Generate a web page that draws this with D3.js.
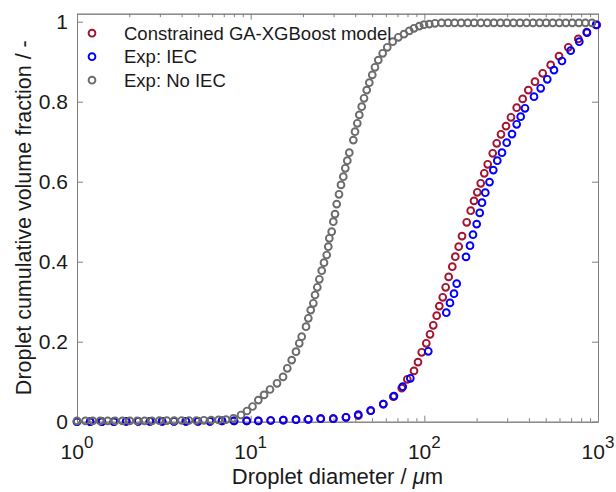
<!DOCTYPE html>
<html>
<head>
<meta charset="utf-8">
<script src="https://cdn.jsdelivr.net/npm/d3@7"></script>
<style>
  html, body { margin: 0; padding: 0; background: #fff; }
  svg { display: block; font-family: "Liberation Sans", Arial, Helvetica, sans-serif; }
</style>
</head>
<body>
<svg id="chart" width="616" height="492"></svg>
<script>
// Droplet diameter (µm) and cumulative volume fraction for each series
const modelD = [1.00, 1.19, 1.39, 1.63, 1.92, 2.25, 2.63, 3.09, 3.62, 4.24, 4.97, 5.83, 6.84, 8.02,
  9.49, 11.07, 13.04, 15.41, 18.24, 21.47, 25.31, 29.91, 35.39, 41.66, 49.11, 58.03,
  66.27, 74.07, 79.80, 87.19, 91.93, 96.57, 102.6, 107.8, 112.6, 117.8, 122.0, 127.6, 132.7, 138.1,
  144.9, 150.8, 157.7, 164.8, 175.4, 184.9, 193.2, 201.8, 211.2, 221.4, 231.7, 247.6,
  261.1, 276.3, 295.3, 315.5, 340.2, 368.5, 396.9, 433.7, 480.3, 534.1, 596.4, 674.6, 770.0, 860.9, 985.0];
const modelF = [0.000, 0.000, 0.000, 0.000, 0.001, 0.001, 0.001, 0.001, 0.001, 0.001, 0.001, 0.001, 0.002, 0.002,
  0.002, 0.002, 0.003, 0.004, 0.005, 0.006, 0.0075, 0.0075, 0.011, 0.015, 0.0275, 0.044,
  0.0625, 0.084, 0.106, 0.127, 0.149, 0.1735, 0.196, 0.2185, 0.241, 0.265, 0.289, 0.311, 0.336, 0.362,
  0.3875, 0.4125, 0.4375, 0.464, 0.4985, 0.5275, 0.552, 0.5735, 0.596, 0.621, 0.6435, 0.671,
  0.696, 0.7185, 0.739, 0.761, 0.785, 0.807, 0.829, 0.850, 0.871, 0.892, 0.914, 0.936, 0.957, 0.974, 0.992];

const iecD = [1.00, 1.19, 1.39, 1.63, 1.92, 2.25, 2.63, 3.09, 3.62, 4.24, 4.97, 5.83, 6.84, 8.02,
  9.49, 11.07, 13.04, 15.41, 18.24, 21.47, 25.31, 29.91, 35.39, 41.66, 49.11, 58.03,
  66.88, 75.06, 83.04, 105.4, 133.8, 140.5, 148.2, 153.6, 173.8, 183.2, 190.6, 200.2, 208.4, 214.8,
  224.4, 237.3, 249.5, 263.1, 280.0, 298.1, 319.8, 340.2, 358.7, 379.8, 428.0, 467.7, 510.5,
  557.9, 620.1, 696.0, 780.4, 864.3, 975.0];
const iecF = [0.000, 0.000, 0.000, 0.000, 0.001, 0.001, 0.001, 0.001, 0.001, 0.001, 0.001, 0.001, 0.002, 0.002,
  0.002, 0.002, 0.003, 0.004, 0.005, 0.006, 0.0075, 0.0075, 0.011, 0.0175, 0.0275, 0.044,
  0.064, 0.0875, 0.1085, 0.176, 0.2725, 0.297, 0.320, 0.345, 0.412, 0.440, 0.4675, 0.494, 0.522, 0.5475,
  0.5725, 0.599, 0.629, 0.6525, 0.6725, 0.6975, 0.719, 0.7435, 0.7625, 0.7835, 0.8125, 0.8335, 0.856,
  0.879, 0.9017, 0.9275, 0.950, 0.9725, 0.992];

const noIecD = [1.00, 1.118, 1.233, 1.360, 1.501, 1.655, 1.826, 2.014, 2.222, 2.450, 2.703, 2.982, 3.289,
  3.628, 4.002, 4.415, 4.870, 5.372, 5.926, 6.537, 7.211,
  7.963, 8.797, 9.524, 10.25, 11.07, 11.94, 12.92, 14.18, 15.36, 16.25, 17.23, 18.24, 19.05, 19.67,
  20.83, 21.48, 22.17, 22.95, 23.47, 24.19, 24.85, 25.65, 26.44, 27.41, 27.99, 28.37, 29.28, 29.91,
  30.59, 31.29, 32.26, 33.12, 34.15, 35.07, 36.01, 36.98, 39.00, 39.89, 41.12, 42.23, 43.59, 44.95,
  46.58, 48.22, 50.15, 51.97, 54.30, 57.56, 61.18, 65.73, 70.82, 76.36, 81.91, 87.19, 93.55, 99.55,
  106.8, 115.2, 125.6, 137.0, 149.4, 163.0, 177.7, 193.7, 211.4, 230.5, 251.5, 274.2, 298.8, 326.1,
  355.5, 388.0, 422.9, 461.0, 503.0, 548.4, 598.6, 652.5, 711.2, 776.3, 846.1, 923.3];
const noIecF = [0.002, 0.002, 0.002, 0.002, 0.002, 0.002, 0.002, 0.002, 0.002, 0.002, 0.002, 0.0025, 0.0025,
  0.0025, 0.003, 0.003, 0.003, 0.0035, 0.004, 0.0045, 0.005,
  0.0085, 0.0168, 0.0268, 0.038, 0.054, 0.067, 0.0805, 0.096, 0.112, 0.1335, 0.154, 0.175, 0.196, 0.2125,
  0.2375, 0.2585, 0.279, 0.296, 0.3168, 0.336, 0.356, 0.3775, 0.3975, 0.4168, 0.4375, 0.4585, 0.475, 0.500,
  0.519, 0.544, 0.5685, 0.592, 0.6125, 0.6335, 0.6525, 0.6725, 0.704, 0.725, 0.746, 0.767, 0.7875, 0.8085,
  0.829, 0.8475, 0.867, 0.886, 0.904, 0.921, 0.936, 0.950, 0.961, 0.969, 0.977, 0.9835, 0.989, 0.9925,
  0.994, 0.996, 0.997, 0.997, 0.997, 0.997, 0.997, 0.997, 0.997, 0.997, 0.997, 0.997, 0.997, 0.997,
  0.997, 0.997, 0.997, 0.997, 0.997, 0.997, 0.997, 0.997, 0.997, 0.997, 0.997, 0.997];

const seriesNames = ["Constrained GA-XGBoost model", "Exp: IEC", "Exp: No IEC"];
const seriesColors = ["#a2142f", "#0000ff", "#6b6b6b"];
const xMajorExponents = [0, 1, 2, 3];
const yTicks = [0, 0.2, 0.4, 0.6, 0.8, 1];
const yTickLabels = ["0", "0.2", "0.4", "0.6", "0.8", "1"];

const series = [
  { name: seriesNames[0], color: seriesColors[0], d: modelD, f: modelF },
  { name: seriesNames[1], color: seriesColors[1], d: iecD, f: iecF },
  { name: seriesNames[2], color: seriesColors[2], d: noIecD, f: noIecF }
];

const W = 616, H = 492;
const margin = { top: 13.7, right: 18, bottom: 70.3, left: 77 };
const iw = W - margin.left - margin.right;
const ih = H - margin.top - margin.bottom;

const svg = d3.select("#chart");
const g = svg.append("g").attr("transform", `translate(${margin.left},${margin.top})`);

const x = d3.scaleLog().domain([1, 1000]).range([0, iw]);
const y = d3.scaleLinear().domain([0, 1.02]).range([ih, 0]);

const axisColor = "#808080";
const textColor = "#1a1a1a";
const markerR = 3.4, markerW = 1.9;
const majorX = xMajorExponents.map(e => Math.pow(10, e));
const minorX = [];
for (let e = 0; e < 3; e++) for (let k = 2; k <= 9; k++) minorX.push(k * Math.pow(10, e));

function styleAxis(sel) {
  sel.select(".domain").attr("stroke", axisColor).attr("stroke-width", 1);
  sel.selectAll(".tick line").attr("stroke", axisColor).attr("stroke-width", 1);
  sel.selectAll(".tick text").remove();
}

// bottom and top x axes, ticks pointing inward
g.append("g").attr("transform", `translate(0,${ih})`)
  .call(d3.axisBottom(x).tickValues(majorX).tickSize(-6).tickSizeOuter(0)).call(styleAxis);
g.append("g").attr("transform", `translate(0,${ih})`)
  .call(d3.axisBottom(x).tickValues(minorX).tickSize(-3.5).tickSizeOuter(0)).call(styleAxis);
g.append("g")
  .call(d3.axisTop(x).tickValues(majorX).tickSize(-6).tickSizeOuter(0)).call(styleAxis);
g.append("g")
  .call(d3.axisTop(x).tickValues(minorX).tickSize(-3.5).tickSizeOuter(0)).call(styleAxis);

// left and right y axes
g.append("g")
  .call(d3.axisLeft(y).tickValues(yTicks).tickSize(-6).tickSizeOuter(0)).call(styleAxis);
g.append("g").attr("transform", `translate(${iw},0)`)
  .call(d3.axisRight(y).tickValues(yTicks).tickSize(-6).tickSizeOuter(0)).call(styleAxis);

// x tick labels as powers of ten
const xl = g.append("g").attr("font-size", 21).attr("fill", textColor);
xMajorExponents.forEach(e => {
  const t = xl.append("text")
    .attr("x", x(Math.pow(10, e)))
    .attr("y", ih + 37.5)
    .attr("text-anchor", "middle");
  t.append("tspan").text("10");
  t.append("tspan").attr("dy", -11).attr("font-size", 17).text(String(e));
});

// y tick labels
g.append("g").selectAll("text").data(yTicks).join("text")
  .attr("x", -9)
  .attr("y", d => y(d) + 7.7)
  .attr("text-anchor", "end")
  .attr("font-size", 21)
  .attr("fill", textColor)
  .text((d, i) => yTickLabels[i]);

// axis titles
const xt = svg.append("text")
  .attr("x", margin.left + iw / 2)
  .attr("y", 484)
  .attr("text-anchor", "middle")
  .attr("font-size", 22)
  .attr("fill", textColor);
xt.append("tspan").text("Droplet diameter / ");
xt.append("tspan").attr("font-style", "italic").text("\u03bc");
xt.append("tspan").text("m");

svg.append("text")
  .attr("transform", `translate(31,${margin.top + ih / 2}) rotate(-90)`)
  .attr("text-anchor", "middle")
  .attr("font-size", 21.5)
  .attr("fill", textColor)
  .text("Droplet cumulative volume fraction / -");

// data markers
const plot = g.append("g");
series.forEach(s => {
  plot.append("g").selectAll("circle")
    .data(s.d.map((d, i) => [d, s.f[i]]))
    .join("circle")
    .attr("cx", p => x(p[0]))
    .attr("cy", p => y(p[1]))
    .attr("r", markerR)
    .attr("fill", "none")
    .attr("stroke", s.color)
    .attr("stroke-width", markerW);
});

// legend
const lg = g.append("g").attr("transform", "translate(15,19.5)");
series.forEach((s, i) => {
  const row = lg.append("g").attr("transform", `translate(0,${i * 23.5})`);
  row.append("circle").attr("r", markerR).attr("fill", "none")
    .attr("stroke", s.color).attr("stroke-width", markerW);
  row.append("text").attr("x", 32).attr("y", 6.6)
    .attr("font-size", 18.5).attr("fill", textColor).text(s.name);
});
</script>
</body>
</html>
